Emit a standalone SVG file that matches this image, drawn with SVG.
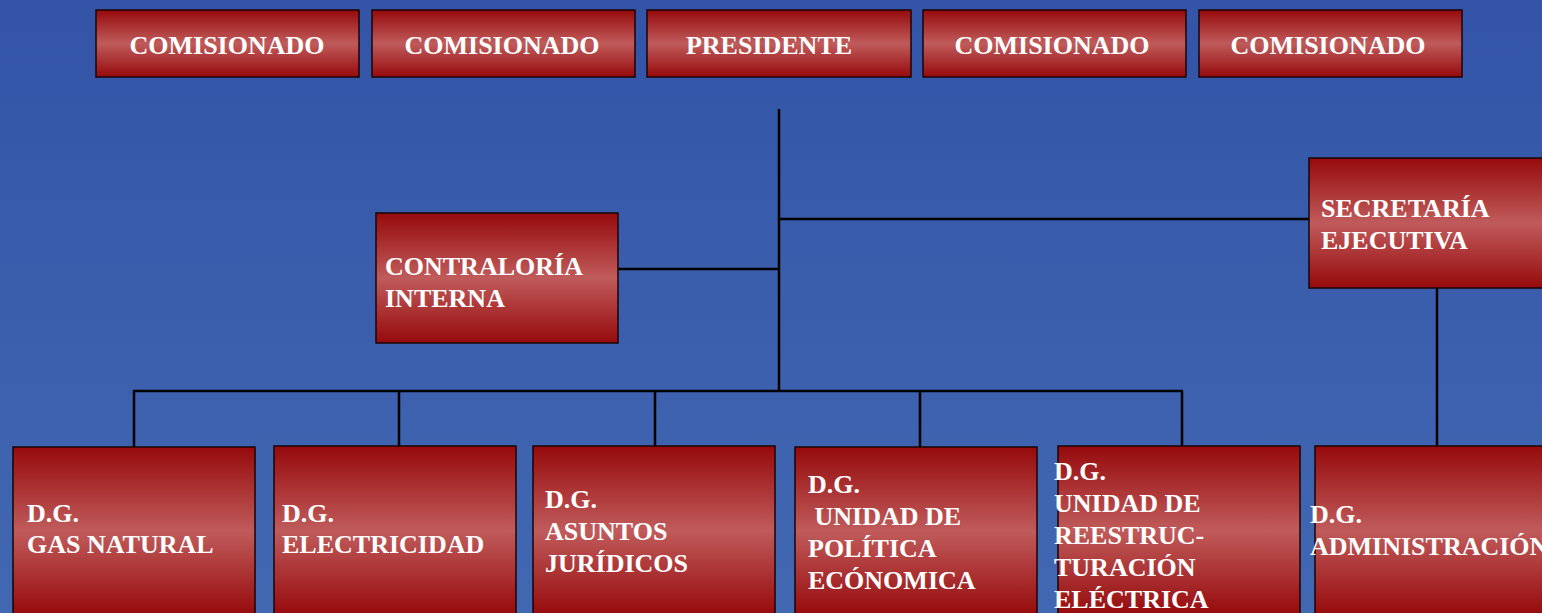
<svg xmlns="http://www.w3.org/2000/svg" width="1542" height="613" viewBox="0 0 1542 613">
<defs>
<linearGradient id="bg" x1="0" y1="0" x2="0" y2="1">
<stop offset="0" stop-color="#3354a7"/>
<stop offset="1" stop-color="#4268b2"/>
</linearGradient>
<linearGradient id="red" x1="0" y1="0" x2="0" y2="1">
<stop offset="0" stop-color="#960a0c"/>
<stop offset="0.5" stop-color="#c05b5b"/>
<stop offset="1" stop-color="#960a0c"/>
</linearGradient>
<style>
.box{fill:url(#red);stroke:#1a0505;stroke-width:1.5}
.t{font-family:"Liberation Serif","Times New Roman",serif;font-weight:bold;font-size:26px;fill:#ffffff}
.c{text-anchor:middle}
.ln{stroke:#000;stroke-width:2.5;fill:none}
</style>
</defs>
<rect x="0" y="0" width="1542" height="613" fill="url(#bg)"/>
<g id="connectors">
<line class="ln" x1="779" y1="109" x2="779" y2="391"/>
<line class="ln" x1="779" y1="219" x2="1309" y2="219"/>
<line class="ln" x1="618" y1="269" x2="779" y2="269"/>
<line class="ln" x1="1437" y1="288" x2="1437" y2="446"/>
<line class="ln" x1="133" y1="391" x2="1183" y2="391"/>
<line class="ln" x1="134" y1="391" x2="134" y2="447"/>
<line class="ln" x1="399" y1="391" x2="399" y2="446"/>
<line class="ln" x1="655" y1="391" x2="655" y2="446"/>
<line class="ln" x1="920" y1="391" x2="920" y2="447"/>
<line class="ln" x1="1182" y1="391" x2="1182" y2="446"/>
</g>
<g id="comisionado1"><rect class="box" x="96" y="10" width="263" height="67"/><text class="t c" x="227" y="54">COMISIONADO</text></g>
<g id="comisionado2"><rect class="box" x="372" y="10" width="263" height="67"/><text class="t c" x="502" y="54">COMISIONADO</text></g>
<g id="presidente"><rect class="box" x="647" y="10" width="264" height="67"/><text class="t c" x="769" y="54">PRESIDENTE</text></g>
<g id="comisionado3"><rect class="box" x="923" y="10" width="263" height="67"/><text class="t c" x="1052" y="54">COMISIONADO</text></g>
<g id="comisionado4"><rect class="box" x="1199" y="10" width="263" height="67"/><text class="t c" x="1328" y="54">COMISIONADO</text></g>
<g id="contraloria"><rect class="box" x="376" y="213" width="242" height="130"/><text class="t" x="385" y="275">CONTRALORÍA</text><text class="t" x="385" y="307">INTERNA</text></g>
<g id="secretaria"><rect class="box" x="1309" y="158" width="240" height="130"/><text class="t" x="1321" y="217">SECRETARÍA</text><text class="t" x="1321" y="249">EJECUTIVA</text></g>
<g id="gas"><rect class="box" x="13" y="447" width="242" height="168"/><text class="t" x="27" y="522">D.G.</text><text class="t" x="27" y="553">GAS NATURAL</text></g>
<g id="electricidad"><rect class="box" x="274" y="446" width="242" height="169"/><text class="t" x="282" y="522">D.G.</text><text class="t" x="282" y="553">ELECTRICIDAD</text></g>
<g id="juridicos"><rect class="box" x="533" y="446" width="242" height="169"/><text class="t" x="545" y="508">D.G.</text><text class="t" x="545" y="540">ASUNTOS</text><text class="t" x="545" y="572">JURÍDICOS</text></g>
<g id="politica"><rect class="box" x="795" y="447" width="242" height="168"/><text class="t" x="808" y="493">D.G.</text><text class="t" x="808" y="525" xml:space="preserve"> UNIDAD DE</text><text class="t" x="808" y="557">POLÍTICA</text><text class="t" x="808" y="589">ECÓNOMICA</text></g>
<g id="reestructuracion"><rect class="box" x="1058" y="446" width="242" height="169"/><text class="t" x="1054" y="480">D.G.</text><text class="t" x="1054" y="512">UNIDAD DE</text><text class="t" x="1054" y="544">REESTRUC-</text><text class="t" x="1054" y="576">TURACIÓN</text><text class="t" x="1054" y="608">ELÉCTRICA</text></g>
<g id="administracion"><rect class="box" x="1315" y="446" width="240" height="169"/><text class="t" x="1310" y="523">D.G.</text><text class="t" x="1310" y="555">ADMINISTRACIÓN</text></g>
</svg>
